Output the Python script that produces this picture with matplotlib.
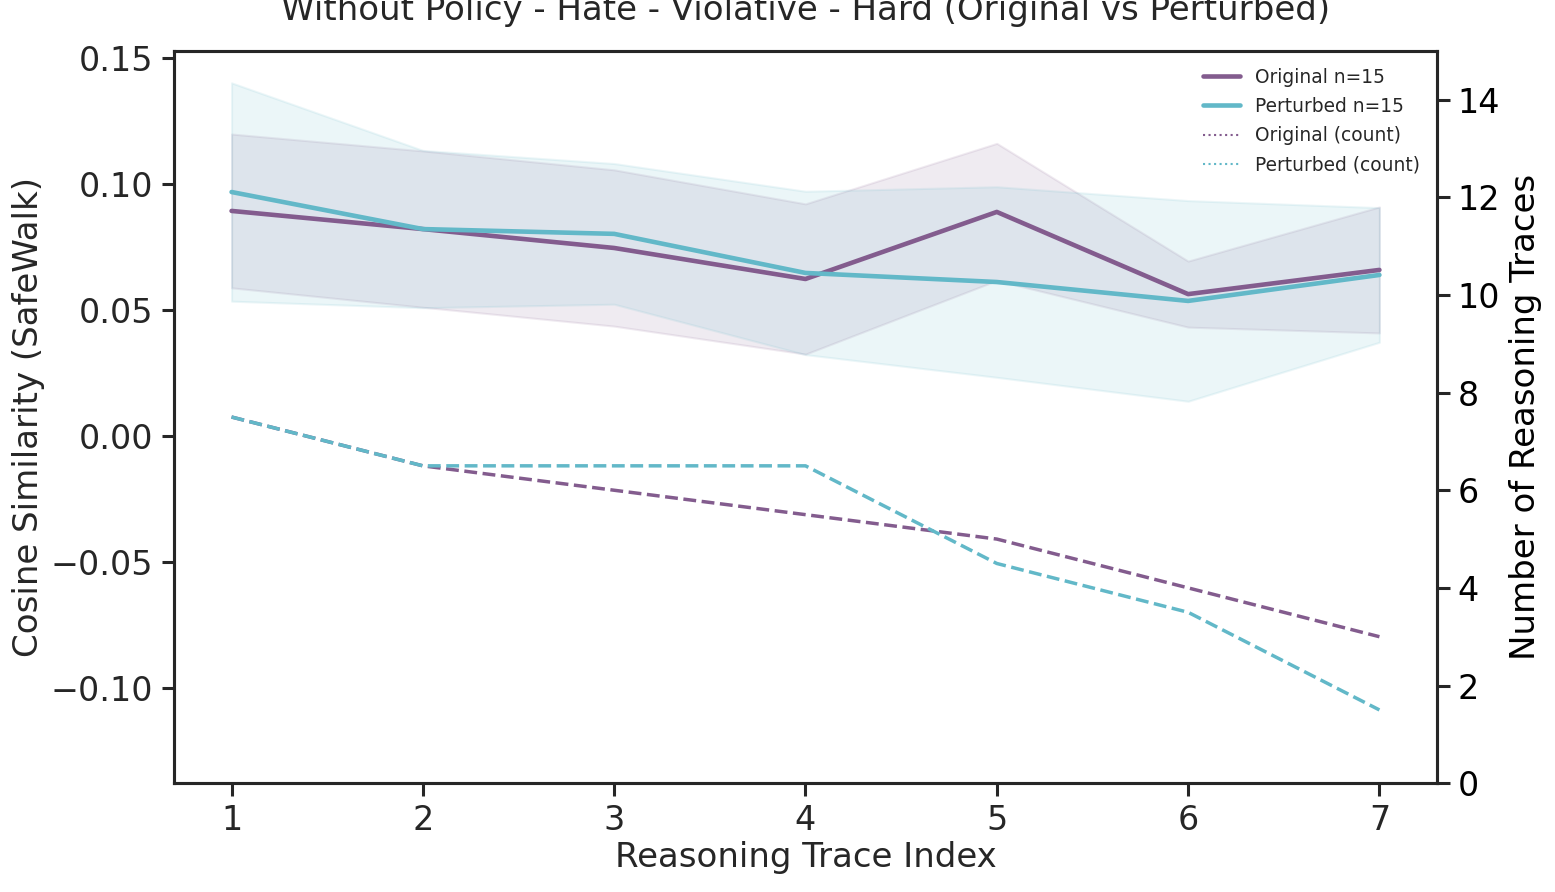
import matplotlib
matplotlib.use("Agg")
import matplotlib.pyplot as plt
import seaborn as sns
from matplotlib.lines import Line2D

sns.set_style("ticks")
plt.rcParams['font.family'] = ['DejaVu Sans']

# reasoning trace index
steps = [1, 2, 3, 4, 5, 6, 7]

# mean cosine similarity and band half-width
orig_mean = [0.0893, 0.0821, 0.0746, 0.0623, 0.0889, 0.0563, 0.0659]
orig_err = [0.0305, 0.0310, 0.0310, 0.0298, 0.0272, 0.0131, 0.0250]
pert_mean = [0.0968, 0.0821, 0.0802, 0.0647, 0.0611, 0.0536, 0.0639]
pert_err = [0.0433, 0.0312, 0.0279, 0.0324, 0.0378, 0.0398, 0.0267]

# number of traces at each index
orig_count = [7.5, 6.5, 6.0, 5.5, 5.0, 4.0, 3.0]
pert_count = [7.5, 6.5, 6.5, 6.5, 4.5, 3.5, 1.5]

c_orig = '#835c8e'
c_pert = '#62b8c8'

fig = plt.figure(figsize=(15.55, 8.92), dpi=100)
ax = fig.add_axes([0.112, 0.122, 0.812, 0.821])
ax2 = ax.twinx()

lo = [m - e for m, e in zip(orig_mean, orig_err)]
hi = [m + e for m, e in zip(orig_mean, orig_err)]
ax.fill_between(steps, lo, hi, color=c_orig, alpha=0.12, linewidth=1.5)
lo = [m - e for m, e in zip(pert_mean, pert_err)]
hi = [m + e for m, e in zip(pert_mean, pert_err)]
ax.fill_between(steps, lo, hi, color=c_pert, alpha=0.12, linewidth=1.5)

ax.plot(steps, orig_mean, color=c_orig, linewidth=3.3)
ax.plot(steps, pert_mean, color=c_pert, linewidth=3.3)

ax2.plot(steps, orig_count, color=c_orig, linewidth=2.5, linestyle='--')
ax2.plot(steps, pert_count, color=c_pert, linewidth=2.5, linestyle='--')

ax.set_xlim(0.7, 7.3)
ax.set_ylim(-0.1377, 0.1528)
ax.set_yticks([-0.10, -0.05, 0.00, 0.05, 0.10, 0.15])
ax.set_xticks(steps)
ax2.set_ylim(0, 15)
ax2.set_yticks([0, 2, 4, 6, 8, 10, 12, 14])

ax.set_xlabel("Reasoning Trace Index", fontsize=24.5, labelpad=3)
ax.set_ylabel("Cosine Similarity (SafeWalk)", fontsize=24.5, labelpad=4)
ax2.set_ylabel("Number of Reasoning Traces", fontsize=24.5, color='black', labelpad=6)
ax.set_title("Without Policy - Hate - Violative - Hard (Original vs Perturbed)",
             fontsize=24.5, pad=22)

for a in (ax, ax2):
    a.tick_params(labelsize=24, length=9, width=2.2, pad=6)
    for s in a.spines.values():
        s.set_linewidth(2.2)
        s.set_color('#262626')
ax2.tick_params(labelcolor='black')

handles = [
    Line2D([0], [0], color=c_orig, linewidth=3.3),
    Line2D([0], [0], color=c_pert, linewidth=3.3),
    Line2D([0], [0], color=c_orig, linewidth=1.5, linestyle=':'),
    Line2D([0], [0], color=c_pert, linewidth=1.5, linestyle=':'),
]
labels = ["Original n=15", "Perturbed n=15", "Original (count)", "Perturbed (count)"]
ax2.legend(handles, labels, loc='upper right', frameon=False, fontsize=13.4,
           handlelength=2.0, borderaxespad=0.5, labelspacing=0.55)

fig.savefig("out.png", dpi=100)
